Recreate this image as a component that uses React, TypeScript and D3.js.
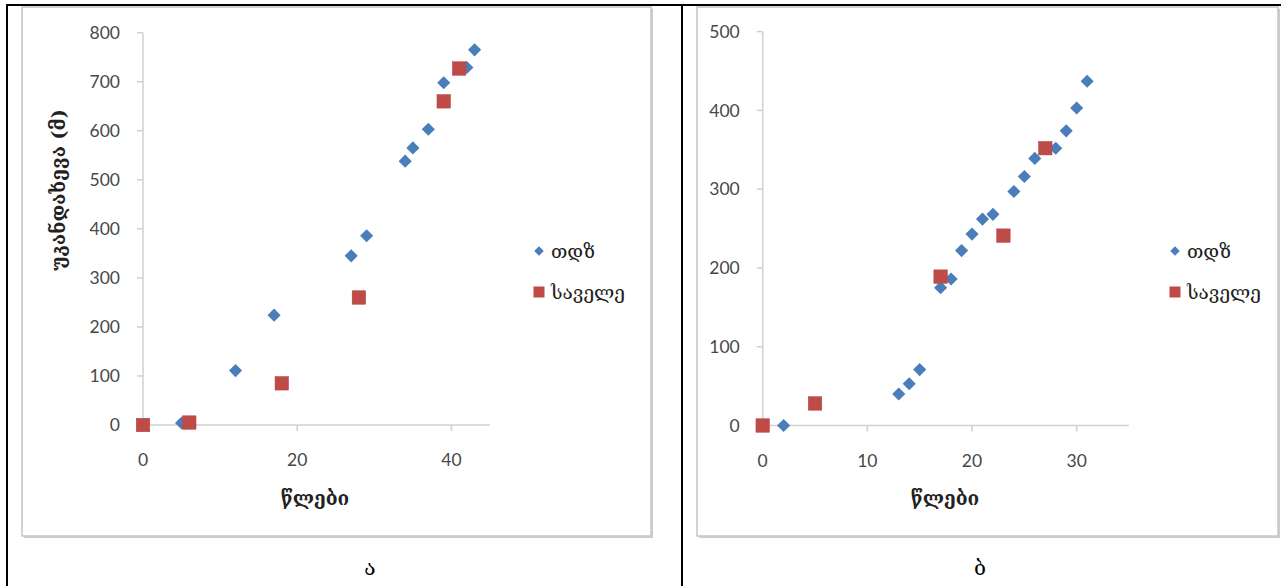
import React from "react";
import * as d3 from "d3";

// ---- Data: left chart (ა) ----
const leftTdzX = [5, 12, 17, 27, 29, 34, 35, 37, 39, 42, 43];
const leftTdzY = [4, 111, 224, 345, 386, 538, 565, 603, 698, 729, 765];
const leftFieldX = [0, 6, 18, 28, 39, 41];
const leftFieldY = [0, 5, 85, 260, 660, 727];
const leftXTicks = [0, 20, 40];
const leftYTicks = [0, 100, 200, 300, 400, 500, 600, 700, 800];

// ---- Data: right chart (ბ) ----
const rightTdzX = [2, 13, 14, 15, 17, 18, 19, 20, 21, 22, 24, 25, 26, 28, 29, 30, 31];
const rightTdzY = [0, 40, 53, 71, 175, 186, 222, 243, 262, 268, 297, 316, 339, 352, 374, 403, 437];
const rightFieldX = [0, 5, 17, 23, 27];
const rightFieldY = [0, 28, 189, 241, 352];
const rightXTicks = [0, 10, 20, 30];
const rightYTicks = [0, 100, 200, 300, 400, 500];

const seriesNames = ["თდზ", "საველე"];
const yTitle = "უკანდახევა  (მ)";
const xTitle = "წლები";
const captions = ["ა", "ბ"];

const BLUE = "#4A7EBB";
const RED = "#BE4B48";
const AXIS = "#D0D0D0";
const LABEL = "#484848";
const NUM_FONT = "Lato, 'Open Sans', sans-serif";
const GEO_FONT = "'DejaVu Serif', 'DejaVu Sans', serif";

type PanelProps = {
  frame: [number, number, number, number];
  xDomain: [number, number];
  yDomain: [number, number];
  xRange: [number, number];
  yRange: [number, number];
  xTicks: number[];
  yTicks: number[];
  tdzX: number[];
  tdzY: number[];
  fieldX: number[];
  fieldY: number[];
  legendX: number;
  xTitleX: number;
  showYTitle: boolean;
  caption: string;
  captionX: number;
};

function Panel(p: PanelProps) {
  const x = d3.scaleLinear().domain(p.xDomain).range(p.xRange);
  const y = d3.scaleLinear().domain(p.yDomain).range(p.yRange);
  const [fx0, fy0, fx1, fy1] = p.frame;
  const x0 = x(p.xDomain[0]);
  const y0 = y(p.yDomain[0]);
  const diamond = d3.symbol().type(d3.symbolDiamond2).size(110)();
  const sq = 13.5;
  return (
    <g>
      {/* chart frame with shadow */}
      <rect x={fx0} y={fy0} width={fx1 - fx0} height={fy1 - fy0} fill="#fff" stroke="#C4C4C4" strokeWidth={1.5} />
      <line x1={fx1 + 1} x2={fx1 + 1} y1={fy0 + 2} y2={fy1 + 2} stroke="#CBCBCB" strokeWidth={2} />
      <line x1={fx0 + 2} x2={fx1 + 2} y1={fy1 + 1} y2={fy1 + 1} stroke="#CBCBCB" strokeWidth={2} />

      {/* axes */}
      <line x1={x0} x2={x0} y1={y(p.yDomain[1])} y2={y0} stroke={AXIS} strokeWidth={1.5} />
      <line x1={x0} x2={x(p.xDomain[1])} y1={y0} y2={y0} stroke={AXIS} strokeWidth={1.5} />
      {p.yTicks.map((t) => (
        <g key={"yt" + t}>
          <line x1={x0 - 6} x2={x0} y1={y(t)} y2={y(t)} stroke={AXIS} strokeWidth={1.5} />
          <text x={x0 - 23} y={y(t)} dy="0.36em" textAnchor="end" fontFamily={NUM_FONT} fontSize={17.5} fill={LABEL}>
            {t}
          </text>
        </g>
      ))}
      {p.xTicks.map((t) => (
        <g key={"xt" + t}>
          <line x1={x(t)} x2={x(t)} y1={y0} y2={y0 + 6} stroke={AXIS} strokeWidth={1.5} />
          <text x={x(t)} y={y0 + 35} dy="0.36em" textAnchor="middle" fontFamily={NUM_FONT} fontSize={17.5} fill={LABEL}>
            {t}
          </text>
        </g>
      ))}

      {/* titles */}
      <text x={p.xTitleX} y={y0 + 73} dy="0.36em" textAnchor="middle" fontFamily={GEO_FONT} fontSize={19} fontWeight="bold" fill="#222">
        {xTitle}
      </text>
      {p.showYTitle && (
        <text
          transform={`translate(${58},${190}) rotate(-90)`}
          textAnchor="middle"
          dy="0.36em"
          fontFamily={GEO_FONT}
          fontSize={19}
          fontWeight="bold"
          fill="#222"
        >
          {yTitle}
        </text>
      )}

      {/* data */}
      {p.tdzX.map((v, i) => (
        <path key={"d" + i} d={diamond || ""} transform={`translate(${x(v)},${y(p.tdzY[i])})`} fill={BLUE} />
      ))}
      {p.fieldX.map((v, i) => (
        <rect key={"s" + i} x={x(v) - sq / 2} y={y(p.fieldY[i]) - sq / 2} width={sq} height={sq} fill={RED} stroke="#B24440" strokeWidth={0.5} />
      ))}

      {/* legend */}
      <path d={diamond || ""} transform={`translate(${p.legendX},${251}) scale(0.72)`} fill={BLUE} />
      <text x={p.legendX + 12} y={251} dy="0.36em" fontFamily={GEO_FONT} fontSize={19} fill="#222">
        {seriesNames[0]}
      </text>
      <rect x={p.legendX - 5.5} y={292 - 5.5} width={11} height={11} fill={RED} />
      <text x={p.legendX + 12} y={292} dy="0.36em" fontFamily={GEO_FONT} fontSize={19} fill="#222">
        {seriesNames[1]}
      </text>

      {/* caption */}
      <text x={p.captionX} y={567} dy="0.36em" textAnchor="middle" fontFamily={GEO_FONT} fontSize={21} fill="#000">
        {p.caption}
      </text>
    </g>
  );
}

export default function App() {
  return (
    <svg width={1281} height={586} style={{ position: "absolute", left: 0, top: 0, background: "#fff" }}>
      <rect x={0} y={0} width={1281} height={586} fill="#fff" />
      <Panel
        frame={[22, 7, 651, 536]}
        xDomain={[0, 45]}
        yDomain={[0, 800]}
        xRange={[143, 490]}
        yRange={[425, 32.7]}
        xTicks={leftXTicks}
        yTicks={leftYTicks}
        tdzX={leftTdzX}
        tdzY={leftTdzY}
        fieldX={leftFieldX}
        fieldY={leftFieldY}
        legendX={539}
        xTitleX={315}
        showYTitle={true}
        caption={captions[0]}
        captionX={370}
      />
      <Panel
        frame={[697, 7, 1278, 536]}
        xDomain={[0, 35]}
        yDomain={[0, 500]}
        xRange={[762.7, 1129]}
        yRange={[425.5, 31.6]}
        xTicks={rightXTicks}
        yTicks={rightYTicks}
        tdzX={rightTdzX}
        tdzY={rightTdzY}
        fieldX={rightFieldX}
        fieldY={rightFieldY}
        legendX={1175}
        xTitleX={945}
        showYTitle={false}
        caption={captions[1]}
        captionX={980}
      />
      {/* table borders */}
      <line x1={6} x2={1281} y1={5} y2={5} stroke="#000" strokeWidth={2} />
      <line x1={7} x2={7} y1={4} y2={586} stroke="#000" strokeWidth={2} />
      <line x1={682} x2={682} y1={4} y2={586} stroke="#000" strokeWidth={2} />
    </svg>
  );
}
